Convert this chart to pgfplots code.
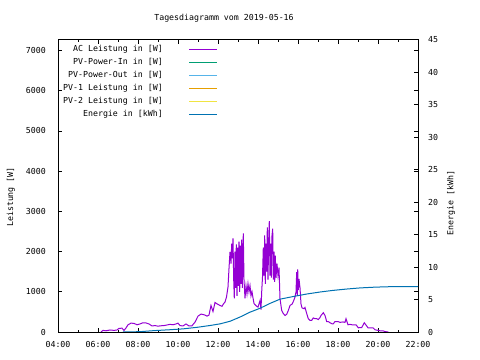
\documentclass[border=0pt]{standalone}
\usepackage{fontspec}
\setmainfont{DejaVu Sans Mono}
\usepackage{pgfplots}
\pgfplotsset{compat=1.18}
\definecolor{cac}{HTML}{9400D3}
\definecolor{cin}{HTML}{009E73}
\definecolor{cout}{HTML}{56B4E9}
\definecolor{cpv1}{HTML}{E69F00}
\definecolor{cpv2}{HTML}{F0E442}
\definecolor{cen}{HTML}{0072B2}
\pgfplotstableread{
t W
6.15 0
6.25 40
6.40 30
6.60 50
6.80 40
6.95 50
7.05 90
7.20 95
7.30 40
7.40 100
7.50 180
7.65 220
7.80 215
7.95 180
8.10 200
8.25 230
8.40 225
8.55 200
8.70 150
8.85 160
9.00 145
9.15 155
9.30 160
9.45 175
9.60 190
9.75 180
9.90 200
10.00 220
10.10 160
10.25 150
10.40 200
10.55 150
10.70 155
10.85 245
11.00 395
11.15 445
11.30 430
11.45 395
11.55 420
11.65 660
11.75 510
11.85 735
11.95 700
12.10 660
12.20 640
12.275 700
12.35 745
12.425 870
12.50 1120
12.55 1580
12.60 1990
12.65 1700
12.685 2200
12.725 1830
12.75 2330
12.785 1300
12.815 835
12.85 2000
12.885 1100
12.915 2180
12.95 900
12.985 2100
13.015 1150
13.05 2250
13.085 1000
13.115 2150
13.15 1200
13.185 2300
13.215 1100
13.265 2450
13.30 1300
13.35 835
13.40 1150
13.45 950
13.50 1200
13.55 1000
13.60 1150
13.65 900
13.70 1000
13.75 850
13.80 710
13.85 680
13.935 640
14.00 620
14.05 700
14.10 780
14.15 560
14.185 1000
14.225 1370
14.265 2100
14.30 1400
14.335 2400
14.365 1200
14.40 2200
14.435 1500
14.465 2600
14.50 1300
14.535 2320
14.565 2755
14.60 1400
14.635 2200
14.665 1350
14.70 2400
14.735 2570
14.765 1300
14.80 2000
14.835 1250
14.865 1900
14.90 1350
14.95 1700
15.00 1400
15.05 1600
15.10 830
15.185 535
15.25 470
15.35 410
15.435 440
15.515 535
15.60 660
15.715 700
15.80 800
15.85 870
15.90 1000
15.935 1490
15.965 900
15.985 1560
16.015 1040
16.05 1320
16.10 1100
16.15 700
16.20 600
16.30 580
16.35 610
16.435 460
16.515 330
16.60 290
16.685 290
16.765 350
16.85 330
16.935 330
17.015 310
17.10 360
17.15 410
17.265 480
17.35 410
17.435 260
17.515 260
17.60 230
17.70 205
17.765 205
17.85 260
18.00 260
18.10 240
18.25 250
18.35 240
18.40 330
18.50 180
18.60 190
18.70 180
18.90 180
19.015 105
19.185 110
19.315 230
19.435 150
19.50 105
19.75 105
19.85 55
20.015 40
20.10 30
20.25 30
20.35 10
20.515 0
}\actable
\pgfplotstableread{
t E
7.25 0
8.10 0.05
8.75 0.2
9.60 0.35
10.25 0.48
10.95 0.72
11.60 1.0
12.10 1.25
12.60 1.65
13.10 2.3
13.60 3.05
14.10 3.65
14.60 4.4
15.10 5.05
15.75 5.45
16.45 5.85
17.10 6.15
17.75 6.4
18.40 6.6
19.10 6.78
19.85 6.9
20.60 6.97
22.00 6.97
}\entable
\begin{document}
\fontsize{8.3}{10}\selectfont
\begin{tikzpicture}[font=\fontsize{8.3}{10}\selectfont]
\useasboundingbox (0bp,0bp) rectangle (480bp,360bp);
\node at (224bp,342bp) {Tagesdiagramm vom 2019-05-16};
\pgfplotsset{
  every axis/.append style={
    scale only axis, width=360bp, height=292.5bp,
    at={(58bp,28bp)}, anchor=south west,
    xmin=4, xmax=22,
    axis line style={line width=1bp},
    every tick/.style={black, line width=0.8bp},
    major tick length=4bp, minor tick length=2bp,
    tick align=inside,
    /pgf/number format/assume math mode=true,
    /pgf/number format/1000 sep={},
    tick label style={font=\fontsize{8.3}{10}\selectfont},
    label style={font=\fontsize{8.3}{10}\selectfont},
  }
}
\begin{axis}[
  ymin=0, ymax=7275,
  ytick={0,1000,...,7000},
  scaled y ticks=false,
  ytick pos=both, yticklabel pos=left,
  xtick={4,6,...,22},
  xticklabels={04:00,06:00,08:00,10:00,12:00,14:00,16:00,18:00,20:00,22:00},
  minor x tick num=1,
  xtick pos=both, xticklabel pos=bottom,
  yticklabel style={anchor=east, inner sep=0pt, xshift=-12bp},
  xticklabel style={anchor=north, inner sep=0pt, yshift=-9bp},
  ylabel={Leistung [W]},
  ylabel style={at={(axis description cs:-0.1306,0.4615)}, anchor=center},
  legend cell align=right,
  legend plot pos=right,
  legend image code/.code={\path (0bp,0bp); \draw[#1] (24bp,0bp) -- (52bp,0bp);},
  legend style={at={(axis description cs:0.0083,0.99)}, anchor=north west,
    draw=none, fill=none, inner sep=0pt, row sep=0pt,
    nodes={inner xsep=2bp, inner ysep=2bp, text height=7bp, text depth=2bp}},
  legend entries={AC Leistung in [W],PV-Power-In in [W],PV-Power-Out in [W],PV-1 Leistung in [W],PV-2 Leistung in [W],Energie in [kWh]},
]
\addplot[cac, line width=1bp, mark=none] table[x=t,y=W] {\actable};
\addlegendimage{cin, line width=1bp}
\addlegendimage{cout, line width=1bp}
\addlegendimage{cpv1, line width=1bp}
\addlegendimage{cpv2, line width=1bp}
\addlegendimage{cen, line width=1bp}
\end{axis}
\begin{axis}[
  ymin=0, ymax=45,
  ytick={0,5,...,45},
  axis y line*=right, hide x axis,
  yticklabel style={anchor=west, inner sep=0pt, xshift=10bp},
  ylabel={Energie [kWh]},
  ylabel style={at={(axis description cs:1.0917,0.441)}, anchor=center},
]
\addplot[cen, line width=1bp, mark=none] table[x=t,y=E] {\entable};
\end{axis}
\end{tikzpicture}
\end{document}
